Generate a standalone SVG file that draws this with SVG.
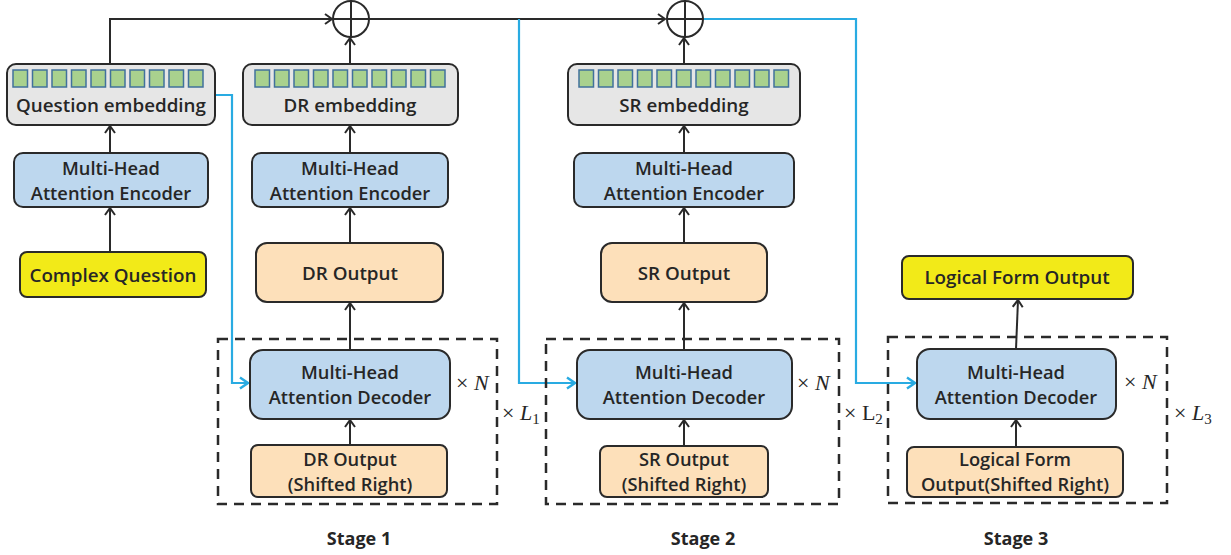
<svg xmlns="http://www.w3.org/2000/svg" width="1231" height="555" viewBox="0 0 1231 555">
<defs>
<style>
.box{stroke:#2a2a2a;stroke-width:2}
.emb{fill:#e6e6e6}
.enc{fill:#bdd7ee}
.out{fill:#fde0ba}
.yel{fill:#f2ea18}
.sq{fill:#a9d18e;stroke:#41719c;stroke-width:1.5}
.t{font-family:"Open Sans","Noto Sans",sans-serif;font-size:18.8px;font-weight:600;fill:#262626;text-anchor:middle}
.t2{font-family:"Open Sans","Noto Sans",sans-serif;font-size:18.3px;font-weight:600;fill:#262626;text-anchor:middle}
.st{font-family:"Open Sans","Noto Sans",sans-serif;font-size:18px;font-weight:700;fill:#262626;text-anchor:middle}
.m{font-family:"Liberation Serif","DejaVu Serif",serif;font-size:22px;fill:#262626}
.k{stroke:#2a2a2a;stroke-width:2;fill:none}
.b{stroke:#29abe2;stroke-width:2.2;fill:none}
.dash{stroke:#2a2a2a;stroke-width:2.5;fill:none;stroke-dasharray:10,7}
</style>
<marker id="ak" markerWidth="12" markerHeight="12" refX="9" refY="6" orient="auto" markerUnits="userSpaceOnUse">
<path d="M2,1 L9,6 L2,11" fill="none" stroke="#2a2a2a" stroke-width="2"/>
</marker>
<marker id="ab" markerWidth="14" markerHeight="14" refX="11" refY="7" orient="auto" markerUnits="userSpaceOnUse">
<path d="M3,1.5 L11,7 L3,12.5" fill="none" stroke="#29abe2" stroke-width="2.5"/>
</marker>
<g id="sq10">
<rect class="sq" x="0" y="0" width="14.5" height="17"/>
<rect class="sq" x="19.5" y="0" width="14.5" height="17"/>
<rect class="sq" x="39" y="0" width="14.5" height="17"/>
<rect class="sq" x="58.5" y="0" width="14.5" height="17"/>
<rect class="sq" x="78" y="0" width="14.5" height="17"/>
<rect class="sq" x="97.5" y="0" width="14.5" height="17"/>
<rect class="sq" x="117" y="0" width="14.5" height="17"/>
<rect class="sq" x="136.5" y="0" width="14.5" height="17"/>
<rect class="sq" x="156" y="0" width="14.5" height="17"/>
<rect class="sq" x="175.5" y="0" width="14.5" height="17"/>
</g>
</defs>
<rect width="1231" height="555" fill="#ffffff"/>

<g id="connectors">
<path class="k" d="M110,64 V19 H332" marker-end="url(#ak)"/>
<path class="k" d="M369,19 H665" marker-end="url(#ak)"/>
<path class="b" d="M215,95 H232 V383 H248" marker-end="url(#ab)"/>
<path class="b" d="M519,19 V383 H575" marker-end="url(#ab)"/>
<path class="b" d="M703,19 H856 V383 H915" marker-end="url(#ab)"/>
<path class="k" d="M110,252 V208" marker-end="url(#ak)"/>
<path class="k" d="M110,153 V126" marker-end="url(#ak)"/>
<path class="k" d="M350,64 V38" marker-end="url(#ak)"/>
<path class="k" d="M350,153 V126" marker-end="url(#ak)"/>
<path class="k" d="M350,243 V208" marker-end="url(#ak)"/>
<path class="k" d="M350,350 V303" marker-end="url(#ak)"/>
<path class="k" d="M350,445 V420" marker-end="url(#ak)"/>
<path class="k" d="M684,64 V38" marker-end="url(#ak)"/>
<path class="k" d="M684,153 V126" marker-end="url(#ak)"/>
<path class="k" d="M684,243 V208" marker-end="url(#ak)"/>
<path class="k" d="M684,350 V303" marker-end="url(#ak)"/>
<path class="k" d="M684,446 V420" marker-end="url(#ak)"/>
<path class="k" d="M1016,349 L1018,300" marker-end="url(#ak)"/>
<path class="k" d="M1016,447 V420" marker-end="url(#ak)"/>
</g>

<g id="plus1">
<circle class="k" cx="351" cy="19" r="18"/>
<path class="k" d="M333,19 H369 M351,1 V37"/>
</g>
<g id="plus2">
<circle class="k" cx="685" cy="19" r="18"/>
<path class="k" d="M667,19 H703 M685,1 V37"/>
</g>

<g id="question-embedding">
<rect class="box emb" x="7" y="64" width="208" height="61" rx="9"/>
<use href="#sq10" x="13" y="70"/>
<text class="t" x="111" y="112">Question embedding</text>
</g>
<g id="q-encoder">
<rect class="box enc" x="14" y="153" width="194" height="54" rx="9"/>
<text class="t2" x="111" y="175">Multi-Head</text>
<text class="t2" x="111" y="200">Attention Encoder</text>
</g>
<g id="complex-question">
<rect class="box yel" x="20" y="252" width="186" height="45" rx="7"/>
<text class="t" x="113" y="282">Complex Question</text>
</g>

<g id="dr-embedding">
<rect class="box emb" x="243" y="64" width="215" height="61" rx="9"/>
<use href="#sq10" x="255" y="70"/>
<text class="t" x="350" y="112">DR embedding</text>
</g>
<g id="dr-encoder">
<rect class="box enc" x="252" y="153" width="196" height="54" rx="9"/>
<text class="t2" x="350" y="175">Multi-Head</text>
<text class="t2" x="350" y="200">Attention Encoder</text>
</g>
<g id="dr-output">
<rect class="box out" x="256" y="243" width="187" height="59" rx="11"/>
<text class="t" x="350" y="280">DR Output</text>
</g>
<g id="stage1-block">
<rect class="dash" x="218" y="339" width="279" height="165"/>
</g>
<g id="dr-decoder">
<rect class="box enc" x="250" y="350" width="200" height="69" rx="13"/>
<text class="t2" x="350" y="379">Multi-Head</text>
<text class="t2" x="350" y="404">Attention Decoder</text>
</g>
<g id="dr-shifted">
<rect class="box out" x="251" y="445" width="196" height="52" rx="7"/>
<text class="t2" x="350" y="466">DR Output</text>
<text class="t2" x="350" y="491">(Shifted Right)</text>
</g>
<text class="m" x="456" y="390">× <tspan font-style="italic">N</tspan></text>
<text class="m" x="502" y="420">× <tspan font-style="italic">L</tspan><tspan font-size="15" dy="4">1</tspan></text>
<text class="st" x="359" y="545">Stage 1</text>

<g id="sr-embedding">
<rect class="box emb" x="568" y="64" width="232" height="61" rx="9"/>
<use href="#sq10" x="579" y="70"/>
<rect class="sq" x="774" y="70" width="14.5" height="17"/>
<text class="t" x="684" y="112">SR embedding</text>
</g>
<g id="sr-encoder">
<rect class="box enc" x="574" y="153" width="220" height="54" rx="9"/>
<text class="t2" x="684" y="175">Multi-Head</text>
<text class="t2" x="684" y="200">Attention Encoder</text>
</g>
<g id="sr-output">
<rect class="box out" x="601" y="243" width="166" height="59" rx="11"/>
<text class="t" x="684" y="280">SR Output</text>
</g>
<g id="stage2-block">
<rect class="dash" x="546" y="339" width="293" height="165"/>
</g>
<g id="sr-decoder">
<rect class="box enc" x="577" y="350" width="215" height="69" rx="13"/>
<text class="t2" x="684" y="379">Multi-Head</text>
<text class="t2" x="684" y="404">Attention Decoder</text>
</g>
<g id="sr-shifted">
<rect class="box out" x="600" y="446" width="168" height="51" rx="7"/>
<text class="t2" x="684" y="466">SR Output</text>
<text class="t2" x="684" y="491">(Shifted Right)</text>
</g>
<text class="m" x="797" y="390">× <tspan font-style="italic">N</tspan></text>
<text class="m" x="844" y="420">× L<tspan font-size="15" dy="4">2</tspan></text>
<text class="st" x="703" y="545">Stage 2</text>

<g id="lf-output">
<rect class="box yel" x="902" y="256" width="231" height="43" rx="7"/>
<text class="t" x="1017" y="284">Logical Form Output</text>
</g>
<g id="stage3-block">
<rect class="dash" x="888" y="337" width="279" height="166"/>
</g>
<g id="lf-decoder">
<rect class="box enc" x="917" y="349" width="199" height="70" rx="13"/>
<text class="t2" x="1016" y="379">Multi-Head</text>
<text class="t2" x="1016" y="404">Attention Decoder</text>
</g>
<g id="lf-shifted">
<rect class="box out" x="907" y="447" width="216" height="50" rx="7"/>
<text class="t2" x="1015" y="466">Logical Form</text>
<text class="t2" x="1015" y="491">Output(Shifted Right)</text>
</g>
<text class="m" x="1124" y="389">× <tspan font-style="italic">N</tspan></text>
<text class="m" x="1174" y="420">× <tspan font-style="italic">L</tspan><tspan font-size="15" dy="4">3</tspan></text>
<text class="st" x="1016" y="545">Stage 3</text>
</svg>
